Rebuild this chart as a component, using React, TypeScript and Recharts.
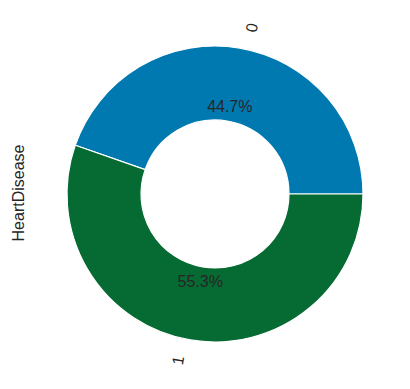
import React from 'react';
import { PieChart, Pie, Cell } from 'recharts';

const categories = ['0', '1'];
const counts = [410, 508];
const colors = ['#0079b1', '#066a33'];
const axisLabel = 'HeartDisease';

const data = categories.map((c, i) => ({ name: c, value: counts[i] }));

const RAD = Math.PI / 180;

const renderLabel = (props: any) => {
  const { cx, cy, midAngle, outerRadius, percent, name } = props;
  const cos = Math.cos(midAngle * RAD);
  const sin = Math.sin(midAngle * RAD);
  const px = cx + outerRadius * 0.6 * cos;
  const py = cy - outerRadius * 0.6 * sin;
  const xt = cx + outerRadius * 1.1 * cos;
  const yt = cy - outerRadius * 1.1 * sin;
  const rot = midAngle + (cos > 0 ? 0 : 180);
  const w = 8.9;
  const h = 18;
  const ac = Math.abs(Math.cos(rot * RAD));
  const as = Math.abs(Math.sin(rot * RAD));
  const bw = w * ac + h * as;
  const bh = w * as + h * ac;
  const lx = cos > 0 ? xt + bw / 2 : xt - bw / 2;
  const ly = sin > 0 ? yt - bh / 2 : yt + bh / 2;
  return (
    <g>
      <text
        x={px}
        y={py}
        textAnchor="middle"
        dominantBaseline="central"
        fill="#262626"
        fontSize={16}
        fontFamily="'Liberation Sans', Arial, sans-serif"
      >
        {(percent * 100).toFixed(1) + '%'}
      </text>
      <text
        x={lx}
        y={ly}
        textAnchor="middle"
        dominantBaseline="central"
        fill="#262626"
        fontSize={16}
        fontFamily="'Liberation Sans', Arial, sans-serif"
        transform={`rotate(${-rot} ${lx} ${ly})`}
      >
        {name}
      </text>
    </g>
  );
};

export default function App() {
  return (
    <div style={{ position: 'absolute', left: 0, top: 0, width: 410, height: 389, background: '#fff' }}>
      <PieChart width={410} height={389} margin={{ top: 0, right: 0, bottom: 0, left: 0 }}>
        <Pie
          data={data}
          dataKey="value"
          nameKey="name"
          cx={215}
          cy={194}
          outerRadius={148}
          innerRadius={74}
          startAngle={0}
          endAngle={360}
          stroke="#ffffff"
          strokeWidth={1.2}
          label={renderLabel}
          labelLine={false}
          isAnimationActive={false}
        >
          {data.map((d, i) => (
            <Cell key={d.name} fill={colors[i]} />
          ))}
        </Pie>
      </PieChart>
      <svg width={410} height={389} style={{ position: 'absolute', left: 0, top: 0, pointerEvents: 'none' }}>
        <text
          x={18}
          y={193}
          textAnchor="middle"
          dominantBaseline="central"
          fill="#262626"
          fontSize={16}
          fontFamily="'Liberation Sans', Arial, sans-serif"
          transform="rotate(-90 18 193)"
        >
          {axisLabel}
        </text>
      </svg>
    </div>
  );
}
